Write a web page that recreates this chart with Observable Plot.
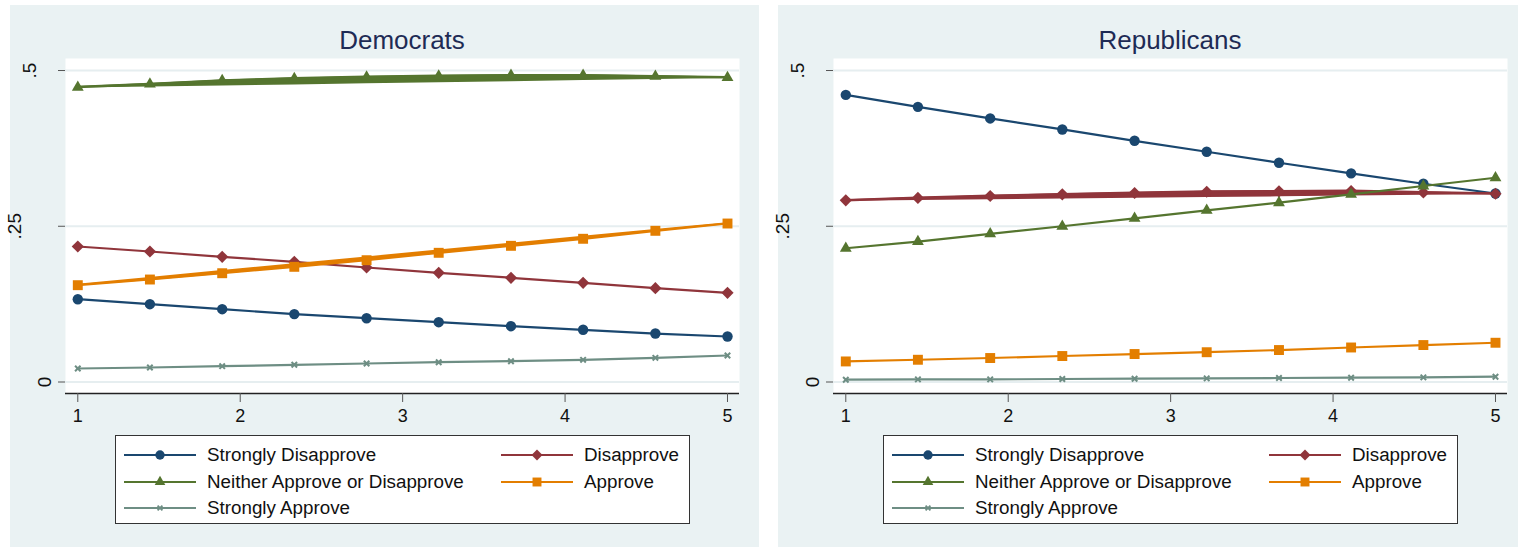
<!DOCTYPE html>
<html><head><meta charset="utf-8">
<script src="https://cdn.jsdelivr.net/npm/d3@7"></script>
<script src="https://cdn.jsdelivr.net/npm/@observablehq/plot@0.6"></script>
<style>
html,body{margin:0;padding:0;background:#fff;overflow:hidden;width:1518px;height:547px;position:relative;font-family:"Liberation Sans",Arial,sans-serif;}
.panel{position:absolute;top:5px;width:749px;height:542px;background:#eaf2f3;}
.title{position:absolute;left:55px;width:674px;top:22px;text-align:center;font-size:26px;line-height:26px;color:#1e2b55;}
.plot{position:absolute;left:0;top:50px;}
.legend{position:absolute;left:105px;top:430px;width:573px;height:87px;background:#fff;border:1px solid #333;}
.entry{position:absolute;height:26px;display:flex;align-items:center;font-size:18.8px;color:#111;white-space:nowrap;}
.entry svg{margin-right:11px;}
</style>
</head><body>
<div id="root"></div>
<script>
// ---- data ----
const xs = [1, 1.444, 1.889, 2.333, 2.778, 3.222, 3.667, 4.111, 4.556, 5];
const categories = ["Strongly Disapprove", "Disapprove", "Neither Approve or Disapprove", "Approve", "Strongly Approve"];
const panelTitles = ["Democrats", "Republicans"];

const demStronglyDisapprove = [0.1329, 0.1249, 0.1169, 0.1090, 0.1024, 0.0960, 0.0896, 0.0838, 0.0778, 0.0730];
const demDisapprove         = [0.2175, 0.2095, 0.2010, 0.1929, 0.1838, 0.1753, 0.1673, 0.1592, 0.1506, 0.1432];
const demNeither            = [0.4732, 0.4783, 0.4839, 0.4872, 0.4896, 0.4912, 0.4923, 0.4923, 0.4907, 0.4888];
const demApprove            = [0.1554, 0.1645, 0.1746, 0.1849, 0.1955, 0.2074, 0.2186, 0.2299, 0.2427, 0.2544];
const demStronglyApprove    = [0.0217, 0.0233, 0.0254, 0.0276, 0.0297, 0.0318, 0.0334, 0.0356, 0.0388, 0.0425];

const repStronglyDisapprove = [0.4609, 0.4417, 0.4231, 0.4054, 0.3872, 0.3696, 0.3519, 0.3349, 0.3183, 0.3026];
const repDisapprove         = [0.2917, 0.2954, 0.2986, 0.3013, 0.3034, 0.3054, 0.3061, 0.3066, 0.3042, 0.3022];
const repNeither            = [0.2147, 0.2253, 0.2377, 0.2500, 0.2628, 0.2756, 0.2878, 0.3013, 0.3146, 0.3279];
const repApprove            = [0.0330, 0.0357, 0.0385, 0.0417, 0.0449, 0.0478, 0.0513, 0.0554, 0.0593, 0.0630];
const repStronglyApprove    = [0.0037, 0.0042, 0.0042, 0.0048, 0.0053, 0.0058, 0.0064, 0.0069, 0.0074, 0.0085];

const xTicks = [1, 2, 3, 4, 5];
const xTickLabels = ["1", "2", "3", "4", "5"];
const yTicks = [0, 0.25, 0.5];
const yTickLabels = ["0", ".25", ".5"];

// series drawn with the filled band between curve and its end-to-end chord (as in the reference)
const demBanded = ["Neither Approve or Disapprove", "Approve"];
const repBanded = ["Disapprove"];

// ---- styles ----
const colors = ["#1a476f", "#90353b", "#55752f", "#e37e00", "#6e8e84"];
const symbols = ["circle", "diamond2", "triangle", "square", "times"];
const radii = [5.2, 5.5, 4.4, 5.6, 2.6];

const W = 749, H = 380;
const margins = {marginTop: 3, marginBottom: 42, marginLeft: 55, marginRight: 20};
const xDomain = [0.9243, 5.0739];
const yDomain = [-0.01846, 0.5193];

function buildPlot(seriesList, banded) {
  const marks = [
    Plot.frame({fill: "white", stroke: "none"}),
    Plot.ruleY(yTicks, {stroke: "#e6eef0", strokeWidth: 2}),
    Plot.ruleY([yDomain[0]], {stroke: "#222", strokeWidth: 1.3}),
    Plot.axisX({ticks: xTicks, tickSize: 9, tickPadding: 7, fontSize: 18, label: null, stroke: "#555", fill: "#111",
      tickFormat: d => xTickLabels[xTicks.indexOf(d)]}),
    Plot.axisY({ticks: yTicks, tickSize: 7, tickFormat: () => "", label: null, stroke: "#555"}),
    ...yTicks.map((t, i) => Plot.text([t], {
      y: d => d, frameAnchor: "left", text: () => yTickLabels[i], rotate: -90,
      dx: -15 * yTickLabels[i].length, lineAnchor: "bottom", textAnchor: "middle", fontSize: 19, fill: "#111"
    }))
  ];
  seriesList.forEach((vals, k) => {
    const n = vals.length;
    const rows = xs.map((x, i) => ({
      x, y: vals[i],
      chord: vals[0] + (vals[n - 1] - vals[0]) * (x - xs[0]) / (xs[n - 1] - xs[0])
    }));
    if (banded.includes(categories[k])) {
      marks.push(Plot.areaY(rows, {x: "x", y1: "chord", y2: "y", fill: colors[k], stroke: colors[k], strokeWidth: 1.8}));
    }
    marks.push(Plot.line(rows, {x: "x", y: "y", stroke: colors[k], strokeWidth: 2.2}));
    const isStroke = symbols[k] === "times";
    marks.push(Plot.dot(rows, {
      x: "x", y: "y", symbol: () => symbols[k], r: radii[k],
      fill: isStroke ? "none" : colors[k], stroke: isStroke ? colors[k] : "none",
      strokeWidth: isStroke ? 2 : 0
    }));
  });
  return Plot.plot({
    width: W, height: H, ...margins,
    x: {domain: xDomain, axis: null},
    y: {domain: yDomain, axis: null},
    symbol: {type: "identity"},
    style: {background: "transparent", fontFamily: "Liberation Sans, Arial, sans-serif", overflow: "visible"},
    marks
  });
}

function legendSwatch(k) {
  const svg = d3.create("svg").attr("width", 72).attr("height", 20);
  svg.append("line").attr("x1", 0).attr("x2", 72).attr("y1", 10).attr("y2", 10)
    .attr("stroke", colors[k]).attr("stroke-width", 2);
  const typeMap = {circle: d3.symbolCircle, diamond2: d3.symbolDiamond2, triangle: d3.symbolTriangle, square: d3.symbolSquare, times: d3.symbolTimes};
  const rr = radii[k] * 0.9;
  const path = d3.symbol(typeMap[symbols[k]], rr * rr * Math.PI)();
  const isStroke = symbols[k] === "times";
  svg.append("path").attr("d", path).attr("transform", "translate(36,10)")
    .attr("fill", isStroke ? "none" : colors[k]).attr("stroke", isStroke ? colors[k] : "none")
    .attr("stroke-width", isStroke ? 1.8 : 0);
  return svg.node();
}

const panels = [
  {left: 10, series: [demStronglyDisapprove, demDisapprove, demNeither, demApprove, demStronglyApprove], banded: demBanded},
  {left: 778, series: [repStronglyDisapprove, repDisapprove, repNeither, repApprove, repStronglyApprove], banded: repBanded}
];

const root = document.getElementById("root");
panels.forEach((p, pi) => {
  const div = document.createElement("div");
  div.className = "panel";
  div.style.left = p.left + "px";
  const t = document.createElement("div");
  t.className = "title";
  t.textContent = panelTitles[pi];
  div.appendChild(t);
  const pl = document.createElement("div");
  pl.className = "plot";
  pl.appendChild(buildPlot(p.series, p.banded));
  div.appendChild(pl);
  const lg = document.createElement("div");
  lg.className = "legend";
  categories.forEach((c, k) => {
    const e = document.createElement("div");
    e.className = "entry";
    const row = Math.floor(k / 2), col = k % 2;
    e.style.top = (6 + 26.5 * row) + "px";
    e.style.left = (col === 0 ? 8 : 385) + "px";
    e.appendChild(legendSwatch(k));
    const s = document.createElement("span");
    s.textContent = c;
    e.appendChild(s);
    lg.appendChild(e);
  });
  div.appendChild(lg);
  root.appendChild(div);
});
</script>
</body></html>
